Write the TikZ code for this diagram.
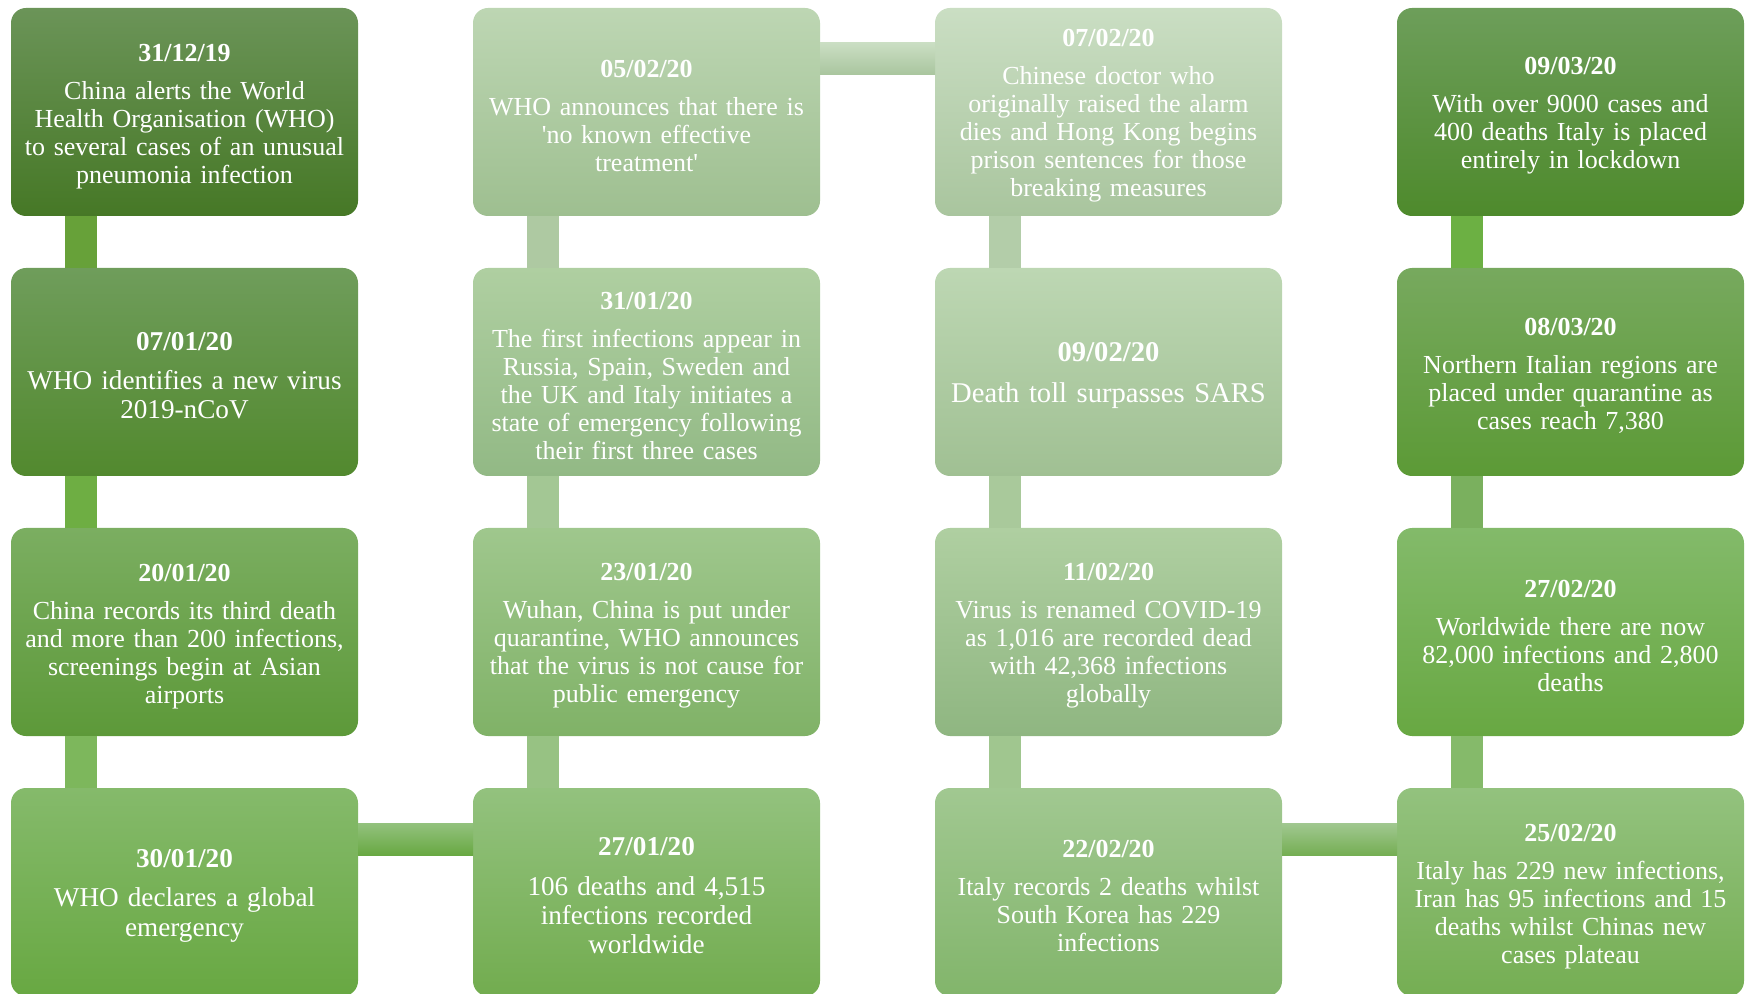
\documentclass[tikz,border=0pt]{standalone}
\usepackage{fontspec}
\setmainfont{Liberation Serif}
\usepackage{tikz}
\usetikzlibrary{positioning,calc}
% box colours (top / bottom of each gradient)
\definecolor{c1t}{HTML}{6B9458}\definecolor{c1b}{HTML}{467826}
\definecolor{c2t}{HTML}{6F9D5B}\definecolor{c2b}{HTML}{52892E}
\definecolor{c3t}{HTML}{7BAE61}\definecolor{c3b}{HTML}{5D9939}
\definecolor{c4t}{HTML}{85BA6B}\definecolor{c4b}{HTML}{68A842}
\definecolor{c5t}{HTML}{93C27E}\definecolor{c5b}{HTML}{72AC4F}
\definecolor{c6t}{HTML}{9FC78D}\definecolor{c6b}{HTML}{80B267}
\definecolor{c7t}{HTML}{AFCFA1}\definecolor{c7b}{HTML}{92B985}
\definecolor{c8t}{HTML}{BDD6B3}\definecolor{c8b}{HTML}{9EBF90}
\definecolor{c9t}{HTML}{CADEC3}\definecolor{c9b}{HTML}{A9C59E}
\definecolor{c10t}{HTML}{BDD7B3}\definecolor{c10b}{HTML}{A0C093}
\definecolor{c11t}{HTML}{AFCFA1}\definecolor{c11b}{HTML}{8FB681}
\definecolor{c12t}{HTML}{A1C891}\definecolor{c12b}{HTML}{82B56B}
\definecolor{c13t}{HTML}{93C27E}\definecolor{c13b}{HTML}{75AE53}
\definecolor{c14t}{HTML}{83BA6A}\definecolor{c14b}{HTML}{68A842}
\definecolor{c15t}{HTML}{77A95E}\definecolor{c15b}{HTML}{5C9A36}
\definecolor{c16t}{HTML}{6D9E5A}\definecolor{c16b}{HTML}{4E8A2C}
\tikzset{
  tl/box/.style={
    draw=none, rounded corners=7.5pt, text=white, align=center,
    text width=164pt, minimum width=173.5pt, minimum height=104pt,
    inner sep=2pt, outer sep=0pt, font=\fontsize{13}{14}\selectfont
  },
  tl/big/.style={font=\fontsize{13.6}{14.6}\selectfont},
  tl/huge/.style={font=\fontsize{14.3}{15.4}\selectfont},
  tl/col/.style 2 args={top color=#1, bottom color=#2}
}
\newcommand{\evdate}[1]{\rule{0pt}{12.8pt}{\bfseries #1}\\[5pt]}

\begin{document}
\begin{tikzpicture}[node distance=26pt and 57.5pt]
  \useasboundingbox (0,0) rectangle (873pt,-497pt);
  \clip (0,0) rectangle (873pt,-497pt);

  % first column, going down
  \node[tl/box, tl/col={c1t}{c1b}, anchor=north west] (dec31) at (5.5pt,-4pt)
    {\evdate{31/12/19}China alerts the World\\Health Organisation (WHO)\\to several cases of an unusual\\pneumonia infection};
  \node[tl/box, tl/big, tl/col={c2t}{c2b}, below=of dec31] (jan07)
    {\evdate{07/01/20}WHO identifies a new virus\\2019-nCoV};
  \node[tl/box, tl/col={c3t}{c3b}, below=of jan07] (jan20)
    {\evdate{20/01/20}China records its third death\\and more than 200 infections,\\screenings begin at Asian\\airports};
  \node[tl/box, tl/big, tl/col={c4t}{c4b}, below=of jan20] (jan30)
    {\evdate{30/01/20}WHO declares a global\\emergency};

  % second column, going up
  \node[tl/box, tl/big, tl/col={c5t}{c5b}, right=of jan30] (jan27)
    {\evdate{27/01/20}106 deaths and 4,515\\infections recorded\\worldwide};
  \node[tl/box, tl/col={c6t}{c6b}, above=of jan27] (jan23)
    {\evdate{23/01/20}Wuhan, China is put under\\quarantine, WHO announces\\that the virus is not cause for\\public emergency};
  \node[tl/box, tl/col={c7t}{c7b}, above=of jan23] (jan31)
    {\evdate{31/01/20}The first infections appear in\\Russia, Spain, Sweden and\\the UK and Italy initiates a\\state of emergency following\\their first three cases};
  \node[tl/box, tl/col={c8t}{c8b}, above=of jan31] (feb05)
    {\evdate{05/02/20}WHO announces that there is\\\textquotesingle no known effective\\treatment\textquotesingle};

  % third column, going down
  \node[tl/box, tl/col={c9t}{c9b}, right=of feb05] (feb07)
    {\evdate{07/02/20}Chinese doctor who\\originally raised the alarm\\dies and Hong Kong begins\\prison sentences for those\\breaking measures};
  \node[tl/box, tl/huge, tl/col={c10t}{c10b}, below=of feb07] (feb09)
    {\evdate{09/02/20}Death toll surpasses SARS};
  \node[tl/box, tl/col={c11t}{c11b}, below=of feb09] (feb11)
    {\evdate{11/02/20}Virus is renamed COVID-19\\as 1,016 are recorded dead\\with 42,368 infections\\globally};
  \node[tl/box, tl/col={c12t}{c12b}, below=of feb11] (feb22)
    {\evdate{22/02/20}Italy records 2 deaths whilst\\South Korea has 229\\infections};

  % fourth column, going up
  \node[tl/box, tl/col={c13t}{c13b}, right=of feb22] (feb25)
    {\evdate{25/02/20}Italy has 229 new infections,\\Iran has 95 infections and 15\\deaths whilst Chinas new\\cases plateau};
  \node[tl/box, tl/col={c14t}{c14b}, above=of feb25] (feb27)
    {\evdate{27/02/20}Worldwide there are now\\82,000 infections and 2,800\\deaths};
  \node[tl/box, tl/col={c15t}{c15b}, above=of feb27] (mar08)
    {\evdate{08/03/20}Northern Italian regions are\\placed under quarantine as\\cases reach 7,380};
  \node[tl/box, tl/col={c16t}{c16b}, above=of mar08] (mar09)
    {\evdate{09/03/20}With over 9000 cases and\\400 deaths Italy is placed\\entirely in lockdown};

  % connectors
  \fill[fill={rgb,255:red,103;green,161;blue,57}] ($(dec31.south west)+(27pt,0)$) rectangle ($(jan07.north west)+(43pt,0)$);
  \fill[fill={rgb,255:red,110;green,174;blue,67}] ($(jan07.south west)+(27pt,0)$) rectangle ($(jan20.north west)+(43pt,0)$);
  \fill[fill={rgb,255:red,125;green,183;blue,92}] ($(jan20.south west)+(27pt,0)$) rectangle ($(jan30.north west)+(43pt,0)$);
  \shade[tl/col={c5t}{c4b}] ($(jan30.north east)+(0,-17.5pt)$) rectangle ($(jan27.north west)+(0,-33.5pt)$);
  \fill[fill={rgb,255:red,151;green,194;blue,131}] ($(jan23.south west)+(27pt,0)$) rectangle ($(jan27.north west)+(43pt,0)$);
  \fill[fill={rgb,255:red,163;green,199;blue,148}] ($(jan31.south west)+(27pt,0)$) rectangle ($(jan23.north west)+(43pt,0)$);
  \fill[fill={rgb,255:red,174;green,201;blue,162}] ($(feb05.south west)+(27pt,0)$) rectangle ($(jan31.north west)+(43pt,0)$);
  \shade[tl/col={c9t}{c9b}] ($(feb05.north east)+(0,-17.5pt)$) rectangle ($(feb07.north west)+(0,-33.5pt)$);
  \fill[fill={rgb,255:red,179;green,205;blue,169}] ($(feb07.south west)+(27pt,0)$) rectangle ($(feb09.north west)+(43pt,0)$);
  \fill[fill={rgb,255:red,169;green,201;blue,155}] ($(feb09.south west)+(27pt,0)$) rectangle ($(feb11.north west)+(43pt,0)$);
  \fill[fill={rgb,255:red,160;green,198;blue,143}] ($(feb11.south west)+(27pt,0)$) rectangle ($(feb22.north west)+(43pt,0)$);
  \shade[tl/col={c12t}{c13b}] ($(feb22.north east)+(0,-17.5pt)$) rectangle ($(feb25.north west)+(0,-33.5pt)$);
  \fill[fill={rgb,255:red,133;green,186;blue,106}] ($(feb27.south west)+(27pt,0)$) rectangle ($(feb25.north west)+(43pt,0)$);
  \fill[fill={rgb,255:red,122;green,176;blue,94}] ($(mar08.south west)+(27pt,0)$) rectangle ($(feb27.north west)+(43pt,0)$);
  \fill[fill={rgb,255:red,108;green,176;blue,67}] ($(mar09.south west)+(27pt,0)$) rectangle ($(mar08.north west)+(43pt,0)$);
\end{tikzpicture}
\end{document}
